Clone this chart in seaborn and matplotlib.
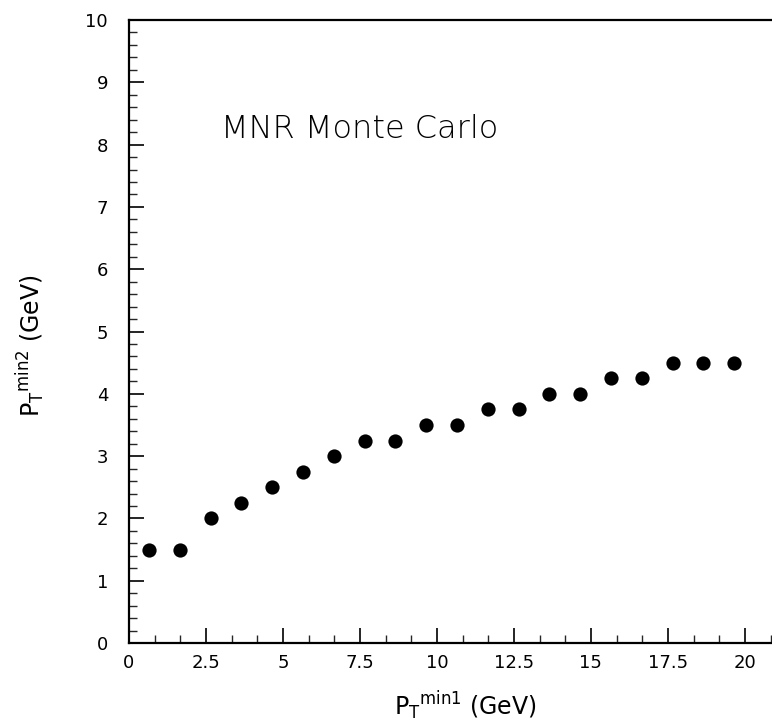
import matplotlib
matplotlib.use("Agg")
import matplotlib.pyplot as plt
from matplotlib.ticker import MultipleLocator
import seaborn as sns
import pandas as pd

# Minimum transverse momentum of the first jet (GeV)
pt_min1 = [0.65, 1.65, 2.65, 3.65, 4.65, 5.65, 6.65, 7.65, 8.65, 9.65,
           10.65, 11.65, 12.65, 13.65, 14.65, 15.65, 16.65, 17.65, 18.65, 19.65]
# Corresponding minimum transverse momentum of the second jet (GeV)
pt_min2 = [1.5, 1.5, 2.0, 2.25, 2.5, 2.75, 3.0, 3.25, 3.25, 3.5,
           3.5, 3.75, 3.75, 4.0, 4.0, 4.25, 4.25, 4.5, 4.5, 4.5]

x_ticks = [0, 2.5, 5, 7.5, 10, 12.5, 15, 17.5, 20]
x_tick_labels = ["0", "2.5", "5", "7.5", "10", "12.5", "15", "17.5", "20"]
y_ticks = list(range(0, 11))

df = pd.DataFrame({"pt1": pt_min1, "pt2": pt_min2})

sns.set_style("ticks")
plt.rcParams["font.family"] = ["DejaVu Sans"]
plt.rcParams["text.color"] = "black"
plt.rcParams["axes.labelcolor"] = "black"

fig = plt.figure(figsize=(7.72, 7.27), dpi=100)
ax = fig.add_axes([0.167, 0.1155, 0.833, 0.857])

sns.scatterplot(data=df, x="pt1", y="pt2", ax=ax, color="black",
                s=105, edgecolor="black", linewidth=0, legend=False)

ax.set_xlim(0, 20.88)
ax.set_ylim(0, 10)
ax.set_xticks(x_ticks)
ax.set_xticklabels(x_tick_labels)
ax.set_yticks(y_ticks)
ax.xaxis.set_minor_locator(MultipleLocator(2.5 / 3))
ax.yaxis.set_minor_locator(MultipleLocator(0.2))

ax.tick_params(axis="x", which="major", pad=8)
ax.tick_params(axis="y", which="major", pad=15)
ax.tick_params(axis="both", which="major", direction="in", length=11,
               width=1.2, labelsize=13, colors="black",
               top=False, right=False)
ax.tick_params(axis="both", which="minor", direction="in", length=6,
               width=1.0, top=False, right=False)

for side in ["left", "bottom", "top"]:
    ax.spines[side].set_linewidth(1.6)
    ax.spines[side].set_color("black")
ax.spines["right"].set_visible(False)

ax.set_xlabel(r"P$_\mathregular{T}$$^\mathregular{min1}$ (GeV)", fontsize=17,
              color="black")
ax.set_ylabel(r"P$_\mathregular{T}$$^\mathregular{min2}$ (GeV)", fontsize=17,
              color="black")
ax.xaxis.set_label_coords(0.5225, -0.075)
ax.yaxis.set_label_coords(-0.128, 0.478)

ax.text(3.0, 8.25, "MNR Monte Carlo", fontsize=23, fontfamily="DejaVu Sans",
        fontweight=200, ha="left", va="center", color="black")

fig.savefig("out.png", dpi=100)
